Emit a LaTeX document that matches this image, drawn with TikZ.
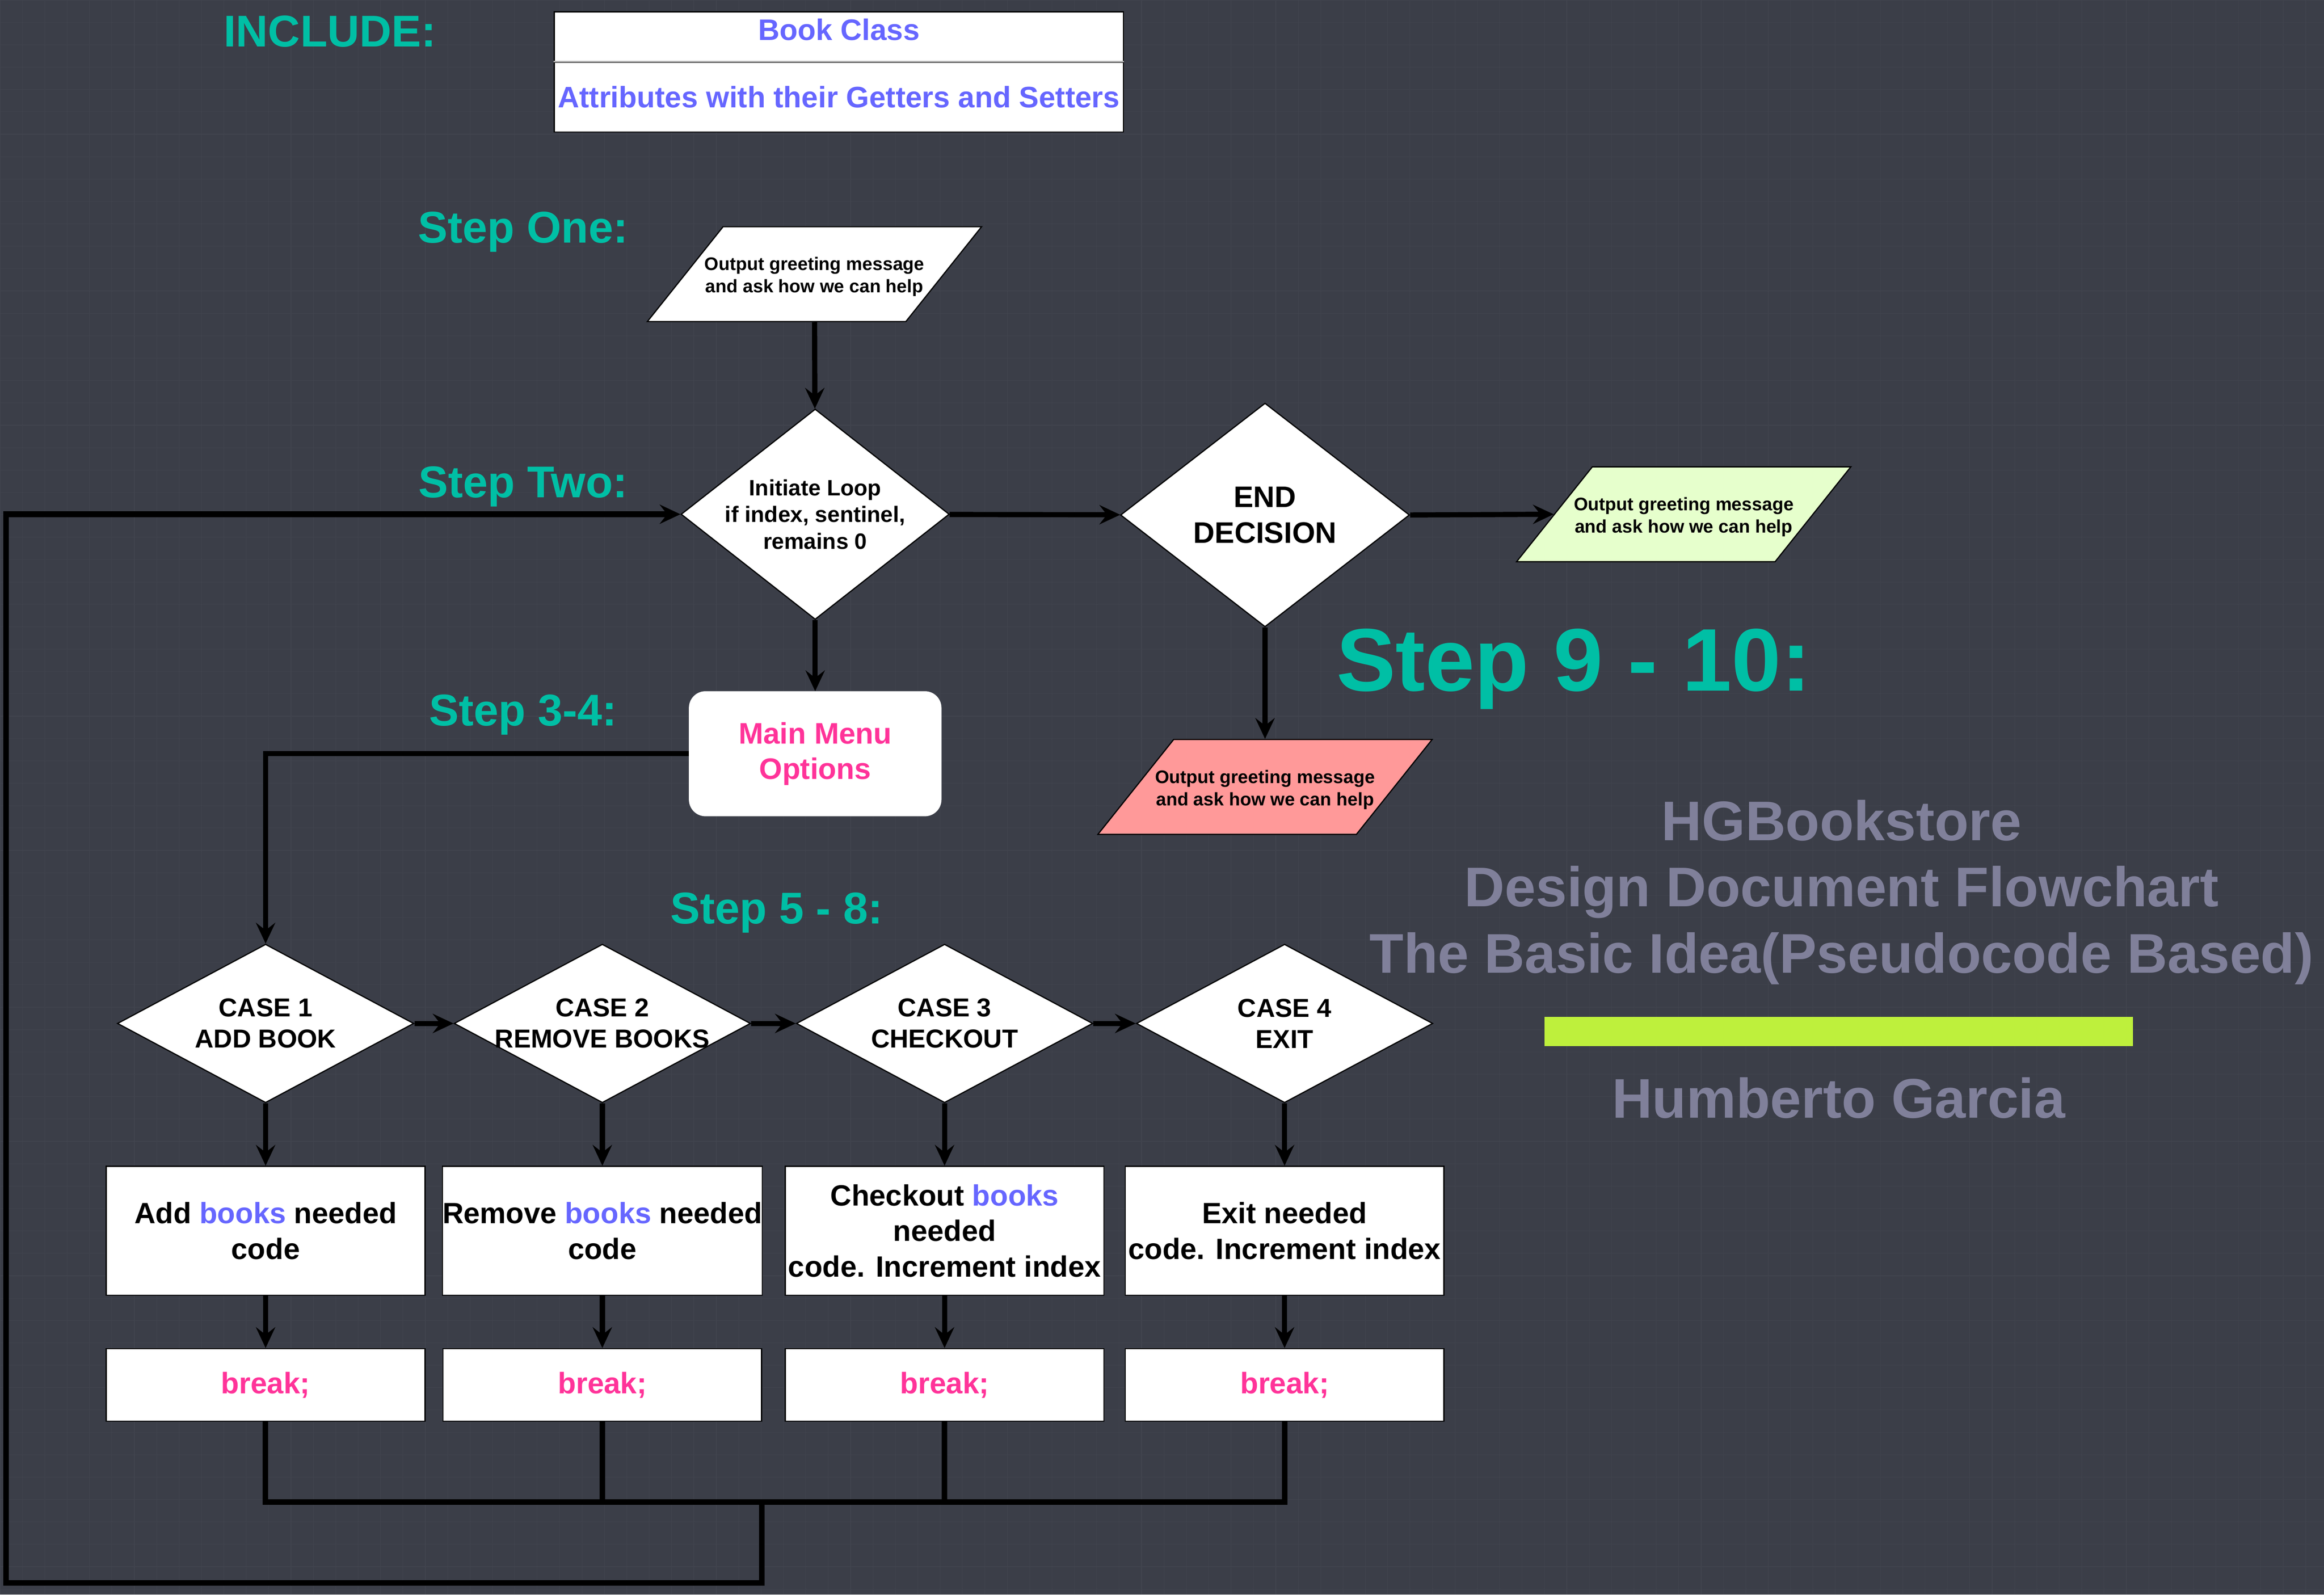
\documentclass[tikz,border=0pt]{standalone}
\usepackage{fontspec}
\setmainfont{Liberation Sans}
\usetikzlibrary{shapes.geometric,arrows.meta}
\definecolor{bg}{HTML}{3B3E48}
\definecolor{gridLine}{HTML}{41444E}
\definecolor{stepTeal}{HTML}{00BFA5}
\definecolor{classBlue}{HTML}{6666FF}
\definecolor{menuPink}{HTML}{FF3399}
\definecolor{titleGray}{HTML}{80809A}
\definecolor{yesGreen}{HTML}{E6FFCC}
\definecolor{noRed}{HTML}{FF9999}
\definecolor{barGreen}{HTML}{BEF03C}
\tikzset{flow/.style={black,line width=3.5pt,-{Stealth[length=14pt,width=13pt,inset=5pt]}}}
\tikzset{busLine/.style={black,line width=3.8pt}}
\tikzset{stepLabel/.style={stepTeal,anchor=base,inner sep=0pt,font=\fontsize{30pt}{36pt}\selectfont\bfseries}}
\tikzset{bigStep/.style={stepTeal,anchor=base,inner sep=0pt,font=\fontsize{60pt}{72pt}\selectfont\bfseries}}
\tikzset{titleText/.style={titleGray,inner sep=0pt,align=center,font=\fontsize{37.7pt}{44.7pt}\selectfont\bfseries}}
\tikzset{classCell/.style={classBlue,draw=black,fill=white,line width=0.8pt,rectangle,minimum width=384,inner sep=0pt,font=\fontsize{20pt}{24pt}\selectfont\bfseries}}
\tikzset{ioBox/.style={black,draw=black,line width=0.8pt,trapezium,trapezium left angle=51.4,trapezium right angle=128.6,inner xsep=-12.5pt,inner ysep=0pt,text height=44.5pt,text depth=19.5pt,align=center,font=\fontsize{12.3pt}{15pt}\selectfont\bfseries}}
\tikzset{decision/.style={draw=black,fill=white,line width=0.8pt,diamond,inner sep=0pt}}
\tikzset{loopText/.style={black,align=center,font=\fontsize{15pt}{18pt}\selectfont\bfseries}}
\tikzset{endText/.style={black,align=center,font=\fontsize{20pt}{24pt}\selectfont\bfseries}}
\tikzset{caseText/.style={black,align=center,font=\fontsize{17.5pt}{21pt}\selectfont\bfseries}}
\tikzset{menuBox/.style={menuPink,draw=white,fill=white,rectangle,rounded corners=11pt,minimum width=170,minimum height=84,align=center,font=\fontsize{20pt}{24pt}\selectfont\bfseries}}
\tikzset{codeBox/.style={black,draw=black,fill=white,line width=0.8pt,rectangle,minimum width=215,minimum height=87,inner sep=0pt,align=center,font=\fontsize{19.8pt}{24pt}\selectfont\bfseries}}
\tikzset{breakBox/.style={menuPink,draw=black,fill=white,line width=0.8pt,rectangle,minimum width=215,minimum height=49,inner sep=0pt,font=\fontsize{20pt}{24pt}\selectfont\bfseries}}
\newcommand{\bk}{\textcolor{classBlue}{books}}

\begin{document}
\begin{tikzpicture}[x=1pt,y=-1pt]
\useasboundingbox (0,0) rectangle (1568,1076);
\fill[bg] (0,0) rectangle (1568,1076);
\draw[gridLine,line width=0.35pt,step=15.102pt] (0,1076) grid (1568,0);

\node[stepLabel] (include) at (222.6,31.5) {INCLUDE:};
\node[classCell,minimum height=34,text depth=10pt] (book) at (566,25) {Book Class};
\node[classCell,minimum height=47] (attrs) at (566,65.5) {Attributes with their Getters and Setters};
\draw[gray!60,line width=0.8pt] (attrs.north west) -- (attrs.north east);

\node[stepLabel] (stepOne) at (353,164) {Step One:};
\node[ioBox,fill=white] (greet) at (549.5,185) {Output greeting message\\and ask how we can help};

\node[stepLabel] (stepTwo) at (353,335.7) {Step Two:};
\node[decision,minimum width=181,minimum height=142,label={[loopText]center:Initiate Loop\\if index, sentinel,\\remains 0}] (loop) at (550,347) {};
\node[decision,minimum width=195,minimum height=151,label={[endText]center:END\\DECISION}] (end) at (853.5,347.5) {};
\node[ioBox,fill=yesGreen] (exitMsg) at (1136,347) {Output greeting message\\and ask how we can help};
\node[ioBox,fill=noRed] (stayMsg) at (853.5,531) {Output greeting message\\and ask how we can help};
\node[bigStep] (stepNine) at (1061.7,466.3) {Step 9 - 10:};

\node[stepLabel] (stepThree) at (353,489.7) {Step 3-4:};
\node[menuBox] (menu) at (550,508.6) {Main Menu\\Options};

\node[stepLabel] (stepFive) at (524,623.2) {Step 5 - 8:};
\node[decision,minimum width=200,minimum height=107,label={[caseText]center:CASE 1\\ADD BOOK}] (c1) at (179.2,690.6) {};
\node[decision,minimum width=200,minimum height=107,label={[caseText]center:CASE 2\\REMOVE BOOKS}] (c2) at (406.4,690.6) {};
\node[decision,minimum width=200,minimum height=107,label={[caseText]center:CASE 3\\CHECKOUT}] (c3) at (637.3,690.6) {};
\node[decision,minimum width=200,minimum height=107,label={[caseText]center:CASE 4\\EXIT}] (c4) at (866.7,690.6) {};

\node[codeBox] (add) at (179.2,830.5) {Add \bk{} needed\\code};
\node[codeBox] (remove) at (406.4,830.5) {Remove \bk{} needed\\code};
\node[codeBox] (checkout) at (637.3,830.5) {Checkout \bk\\needed\\code. Increment index};
\node[codeBox] (exit) at (866.7,830.5) {Exit needed\\code. Increment index};

\node[breakBox] (brk1) at (179.2,934.5) {break;};
\node[breakBox] (brk2) at (406.4,934.5) {break;};
\node[breakBox] (brk3) at (637.3,934.5) {break;};
\node[breakBox] (brk4) at (866.7,934.5) {break;};

\node[titleText] (title) at (1242.5,602) {HGBookstore\\Design Document Flowchart\\The Basic Idea(Pseudocode Based)};
\fill[barGreen] (1042,686) rectangle (1439,706);
\node[titleText,anchor=base] (author) at (1240.5,754.5) {Humberto Garcia};

\coordinate (bus) at (514,1013.5);
\coordinate (ret) at (4,1068);

\draw[flow] (greet) -- (loop);
\draw[flow] (loop) -- (end);
\draw[flow] (end.east) -- (exitMsg.west);
\draw[flow] (end) -- (stayMsg);
\draw[flow] (loop) -- (menu);
\draw[flow] (menu.west) -| (c1.north);
\draw[flow] (c1) -- (c2);
\draw[flow] (c2) -- (c3);
\draw[flow] (c3) -- (c4);
\draw[flow] (c1) -- (add);
\draw[flow] (c2) -- (remove);
\draw[flow] (c3) -- (checkout);
\draw[flow] (c4) -- (exit);
\draw[flow] (add) -- (brk1);
\draw[flow] (remove) -- (brk2);
\draw[flow] (checkout) -- (brk3);
\draw[flow] (exit) -- (brk4);
\draw[busLine] (brk2.south) |- (bus);
\draw[busLine] (brk3.south) |- (bus);
\draw[busLine] (brk4.south) |- (bus);
\draw[flow,line width=3.8pt] (brk1.south) |- (bus) |- (ret) |- (loop.west);
\end{tikzpicture}
\end{document}
